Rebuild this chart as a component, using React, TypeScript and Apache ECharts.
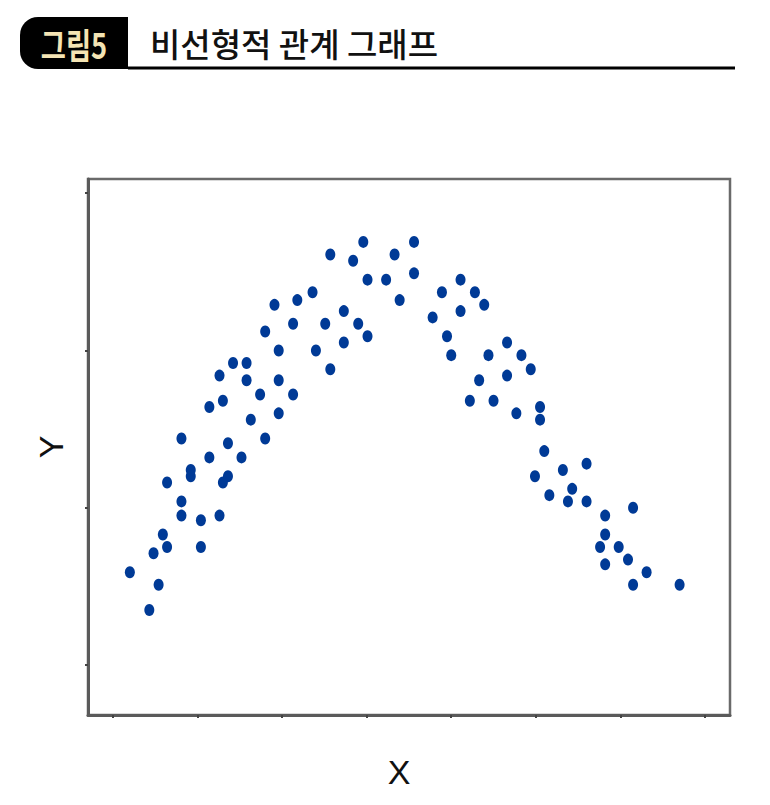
import { useEffect, useRef } from 'react'
import * as echarts from 'echarts'

// 점 좌표 (그림에서 읽은 값, 축 단위는 임의)
const xValues = [
  39.6, 35.7, 38.4, 43.3, 45.6, 40.1, 42.3, 45.6, 43.9, 33.6,
  31.8, 29.1, 37.3, 28.0, 31.3, 35.1, 39.0, 40.1, 29.6, 34.0,
  37.3, 35.7, 24.2, 25.8, 22.6, 25.8, 29.6, 27.4, 31.3, 21.4,
  23.0, 26.3, 29.6, 18.1, 23.6, 28.0, 21.4, 25.2, 19.2, 19.2,
  16.4, 23.6, 23.0, 18.1, 18.1, 20.4, 22.6, 15.9, 16.4, 20.4,
  14.8, 12.0, 15.4, 14.3,
  51.1, 48.9, 52.8, 53.9, 47.8, 51.1, 49.5, 50.0, 56.6, 54.4,
  58.3, 59.4, 56.6, 53.3, 52.2, 55.0, 57.7, 60.5, 60.5, 61.0,
  59.9, 63.2, 66.0, 61.6, 64.3, 63.8, 66.0, 68.2, 71.5, 68.2,
  67.6, 69.8, 70.9, 68.2, 73.1, 71.5, 77.0,
]
const yValues = [
  36.9, 36.1, 35.7, 36.1, 36.9, 34.5, 34.5, 34.9, 33.2, 33.7,
  33.2, 32.9, 32.5, 31.2, 31.7, 31.7, 31.7, 30.9, 30.0, 30.0,
  30.5, 28.8, 29.2, 29.2, 28.4, 28.1, 28.1, 27.2, 27.2, 26.4,
  26.8, 25.6, 26.0, 24.4, 24.1, 24.4, 23.2, 23.2, 22.4, 22.0,
  21.6, 22.0, 21.6, 20.4, 19.5, 19.2, 19.5, 18.3, 17.5, 17.5,
  17.1, 15.9, 15.1, 13.5,
  34.5, 33.7, 33.7, 32.9, 32.1, 32.5, 30.9, 29.7, 30.5, 29.7,
  29.7, 28.8, 28.4, 28.1, 26.8, 26.8, 26.0, 26.4, 25.6, 23.6,
  22.0, 22.4, 22.8, 20.8, 21.2, 20.4, 20.4, 19.5, 20.0, 18.3,
  17.5, 17.5, 16.7, 16.4, 15.9, 15.1, 15.1,
]
const xTicks = [10, 20, 30, 40, 50, 60, 70, 80]
const yTicks = [10, 20, 30, 40]

const figureLabel = '그림5'
const title = '비선형적 관계 그래프'

export default function App() {
  const elRef = useRef<HTMLDivElement>(null)

  useEffect(() => {
    if (!elRef.current) return
    const chart = echarts.init(elRef.current, undefined, { renderer: 'svg' })
    const axisLine = { show: true, lineStyle: { color: '#5a5a5a', width: 3 } }
    const axisName = {
      fontFamily: 'Liberation Sans Narrow, Liberation Sans, sans-serif',
      fontSize: 34,
      color: '#111',
    }
    chart.setOption({
      animation: false,
      backgroundColor: '#fff',
      grid: {
        left: 88,
        top: 179,
        right: 40,
        bottom: 90,
        show: true,
        borderColor: '#6a6a6a',
        borderWidth: 2.5,
      },
      xAxis: {
        type: 'value',
        min: 7.05,
        max: 82.96,
        name: 'X',
        nameLocation: 'middle',
        nameGap: 40,
        // 오른쪽 여백으로 글자를 왼쪽으로 10px 옮김
        nameTextStyle: { ...axisName, padding: [0, 20, 0, 0] },
        axisLine,
        axisTick: { show: true, customValues: xTicks, length: 3, lineStyle: { color: '#444', width: 2 } },
        axisLabel: { show: false },
        splitLine: { show: false },
      },
      yAxis: {
        type: 'value',
        min: 6.82,
        max: 40.9,
        name: 'Y',
        nameLocation: 'middle',
        nameGap: 20,
        nameRotate: 90,
        nameTextStyle: axisName,
        axisLine,
        axisTick: { show: true, customValues: yTicks, length: 3, lineStyle: { color: '#444', width: 2 } },
        axisLabel: { show: false },
        splitLine: { show: false },
      },
      graphic: [
        {
          type: 'rect',
          shape: { x: 20, y: 17, width: 108, height: 52, r: [18, 0, 0, 18] },
          style: { fill: '#000' },
        },
        {
          type: 'line',
          shape: { x1: 128, y1: 68, x2: 735, y2: 68 },
          style: { stroke: '#000', lineWidth: 3 },
        },
        {
          type: 'text',
          x: 74,
          y: 44,
          scaleX: 0.78,
          style: {
            text: figureLabel,
            fill: '#f4e4b4',
            font: 'bold 35px "Noto Sans CJK KR", sans-serif',
            textAlign: 'center',
            textVerticalAlign: 'middle',
          },
        },
        {
          type: 'text',
          x: 150,
          y: 43,
          style: {
            text: title,
            fill: '#111',
            font: '500 33px "Noto Sans CJK KR", sans-serif',
            textAlign: 'left',
            textVerticalAlign: 'middle',
          },
        },
      ],
      series: [
        {
          type: 'scatter',
          symbol: 'circle',
          symbolSize: [10, 12],
          itemStyle: { color: '#003a96', opacity: 1 },
          data: xValues.map((x, i) => [x, yValues[i]]),
        },
      ],
    })
    return () => chart.dispose()
  }, [])

  return <div ref={elRef} style={{ position: 'absolute', left: 0, top: 0, width: 770, height: 805 }} />
}
